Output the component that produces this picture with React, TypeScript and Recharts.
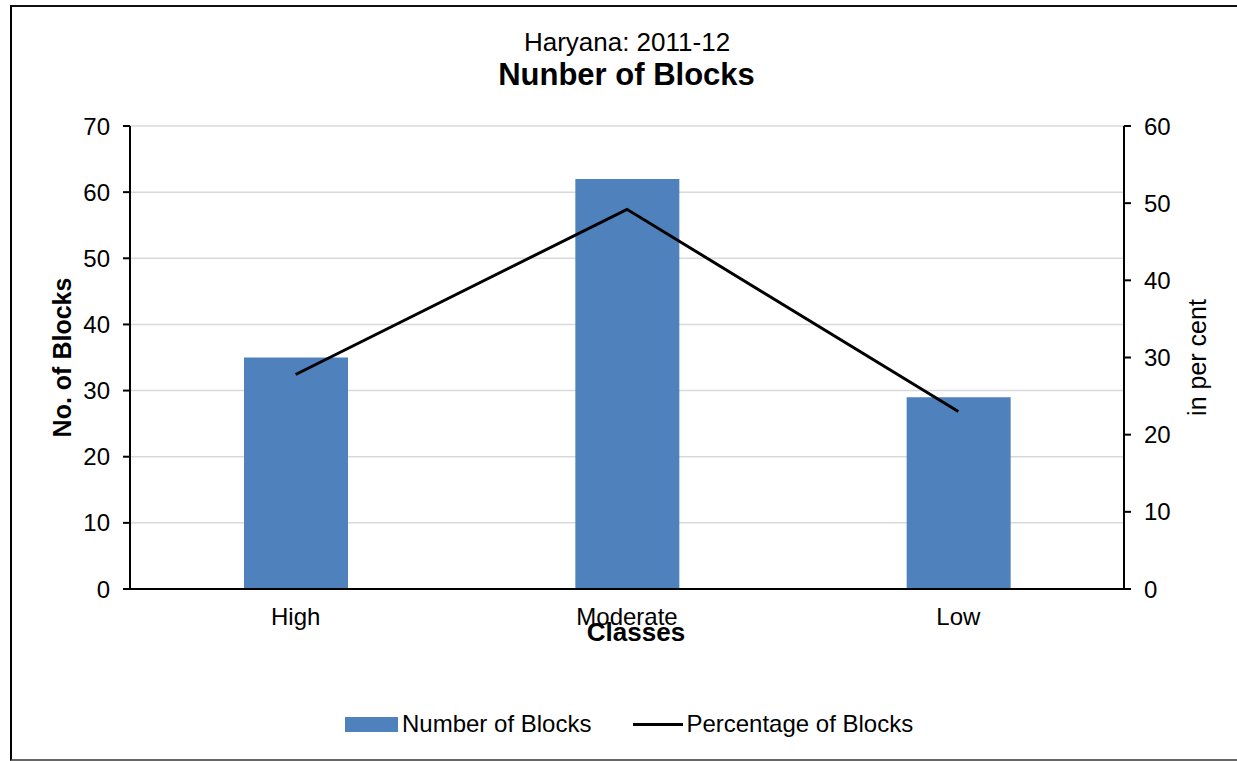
import React from 'react';
import { ComposedChart, Bar, Line, XAxis, YAxis, CartesianGrid, Legend } from 'recharts';

const categories = ['High', 'Moderate', 'Low'];
const numberOfBlocks = [35, 62, 29];
const percentageOfBlocks = [27.8, 49.2, 23.0];
const leftTicks = [0, 10, 20, 30, 40, 50, 60, 70];
const rightTicks = [0, 10, 20, 30, 40, 50, 60];

const subtitle = 'Haryana: 2011-12';
const title = 'Nunber of Blocks';
const xTitle = 'Classes';
const yLeftTitle = 'No. of Blocks';
const yRightTitle = 'in per cent';
const barName = 'Number of Blocks';
const lineName = 'Percentage of Blocks';

const data = categories.map((c, i) => ({
  name: c,
  blocks: numberOfBlocks[i],
  pct: percentageOfBlocks[i],
}));

const FONT = '"Liberation Sans", Arial, sans-serif';
const BAR_COLOR = '#4F81BD';

const LegendContent = () => (
  <div style={{ display: 'flex', alignItems: 'center', fontFamily: FONT, fontSize: 24, color: '#000', height: 30, whiteSpace: 'nowrap' }}>
    <span style={{ display: 'inline-block', width: 53, height: 15, background: BAR_COLOR, marginRight: 4 }} />
    <span>{barName}</span>
    <span style={{ display: 'inline-block', width: 50, height: 3, background: '#000', marginLeft: 42, marginRight: 3 }} />
    <span>{lineName}</span>
  </div>
);

export default function App() {
  const tickStyle = { fill: '#000', fontSize: 24, fontFamily: FONT };
  return (
    <div style={{ position: 'absolute', left: 0, top: 0, width: 1237, height: 761, overflow: 'hidden', background: '#fff', fontFamily: FONT }}>
      <div style={{ position: 'absolute', left: 10, top: 5, width: 1260, height: 752, borderLeft: '2px solid #000', borderTop: '2px solid #111', borderBottom: '2px solid #666' }} />
      <div style={{ position: 'absolute', left: 0, width: 1254, top: 27, textAlign: 'center', fontSize: 26, lineHeight: '30px', color: '#000' }}>{subtitle}</div>
      <div style={{ position: 'absolute', left: 0, width: 1253, top: 57, textAlign: 'center', fontSize: 31, fontWeight: 'bold', lineHeight: '36px', color: '#000' }}>{title}</div>
      <div style={{ position: 'absolute', left: 0, top: 0 }}>
        <ComposedChart width={1237} height={761} data={data} margin={{ top: 126, right: 33, bottom: 112, left: 50 }}>
          <CartesianGrid yAxisId="left" vertical={false} stroke="#d9d9d9" strokeWidth={1.5} />
          <XAxis
            dataKey="name"
            height={60}
            tick={tickStyle}
            tickLine={false}
            tickSize={8}
            tickMargin={11}
            axisLine={{ stroke: '#000', strokeWidth: 2 }}
            label={{ value: xTitle, position: 'insideBottom', offset: 8, dx: 9, style: { fill: '#000', fontSize: 26, fontWeight: 'bold', fontFamily: FONT } }}
          />
          <YAxis
            yAxisId="left"
            width={80}
            domain={[0, 70]}
            ticks={leftTicks}
            interval={0}
            tick={tickStyle}
            tickSize={7}
            tickMargin={13}
            tickLine={{ stroke: '#000', strokeWidth: 2 }}
            axisLine={{ stroke: '#000', strokeWidth: 2 }}
            label={{ value: yLeftTitle, angle: -90, position: 'center', dx: -28, style: { fill: '#000', fontSize: 25, fontWeight: 'bold', fontFamily: FONT } }}
          />
          <YAxis
            yAxisId="right"
            orientation="right"
            width={80}
            domain={[0, 60]}
            ticks={rightTicks}
            interval={0}
            tick={tickStyle}
            tickSize={7}
            tickMargin={13}
            tickLine={{ stroke: '#000', strokeWidth: 2 }}
            axisLine={{ stroke: '#000', strokeWidth: 2 }}
            label={{ value: yRightTitle, angle: -90, position: 'center', dx: 33, style: { fill: '#000', fontSize: 25, fontFamily: FONT } }}
          />
          <Bar yAxisId="left" dataKey="blocks" name={barName} fill={BAR_COLOR} barSize={104} isAnimationActive={false} />
          <Line yAxisId="right" type="linear" dataKey="pct" name={lineName} stroke="#000" strokeWidth={3} dot={false} activeDot={false} isAnimationActive={false} />
          <Legend
            layout="horizontal"
            verticalAlign="middle"
            align="center"
            content={<LegendContent />}
            wrapperStyle={{ position: 'absolute', left: 345, top: 709, width: 620, height: 30 }}
          />
        </ComposedChart>
      </div>
    </div>
  );
}
